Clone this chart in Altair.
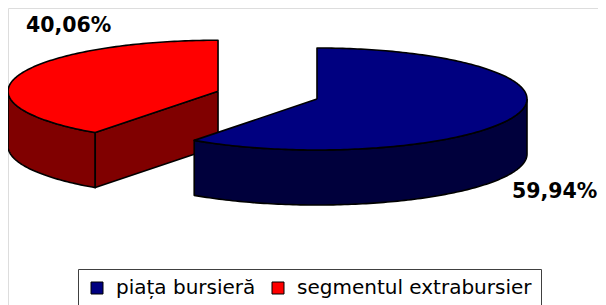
import math
import altair as alt
import pandas as pd

# ---- data ----
categories = ["piața bursieră", "segmentul extrabursier"]
shares = [59.94, 40.06]
top_colors = ["#000080", "#FF0000"]
side_colors = ["#00003C", "#800000"]

# ---- layout / projection (pixels of the page) ----
W, H = 590, 297
CX, CY = 317, 99        # centre of the pie (top face)
RX, RY = 210, 51        # projected radii
DEPTH = 55              # thickness
EXPLODE = [0, 104]      # explosion of each slice along its mid angle
START = 90.0            # 12 o'clock, clockwise
label_pos = [(512, 198), (26, 32)]   # anchor (left, baseline) of each % label

rows = []
pid = [0]


def add_poly(pts, kind, slice_i):
    p = pid[0]
    pid[0] += 1
    for i, (x, y) in enumerate(pts + [pts[0]]):
        rows.append({"x": x, "y": y, "i": i, "poly": p, "kind": kind,
                     "cat": categories[slice_i], "slice": slice_i})
    return p


polys_side = []   # (poly id, colour), in drawing order

total = sum(shares)
angles = []
a = START
for s in shares:
    span = 360.0 * s / total
    angles.append((a, a - span))
    a -= span

geo = []
for k, (t0, t1) in enumerate(angles):
    mid = math.radians((t0 + t1) / 2)
    cx = CX + EXPLODE[k] * math.cos(mid)
    cy = CY - EXPLODE[k] * math.sin(mid) * RY / RX
    geo.append((cx, cy, t0, t1))


def pt(cx, cy, t, dz=0):
    r = math.radians(t)
    return (cx + RX * math.cos(r), cy - RY * math.sin(r) + dz)


def arc(cx, cy, ta, tb, dz=0):
    n = max(2, int(abs(ta - tb)) + 1)
    return [pt(cx, cy, ta + (tb - ta) * j / (n - 1), dz) for j in range(n)]


# draw back slice (red) first, then front slice (blue)
for k in [1, 0]:
    cx, cy, t0, t1 = geo[k]
    lo, hi = min(t0, t1), max(t0, t1)
    for base in [-360, 0, 360]:
        a0, a1 = max(lo, base - 180), min(hi, base)
        if a1 - a0 > 0.01:
            upper = arc(cx, cy, a1, a0)
            lower = arc(cx, cy, a0, a1, DEPTH)
            p = add_poly(upper + lower, "side", k)
            polys_side.append((p, side_colors[k]))
    for te, nrm in [(t0, t0 + 90), (t1, t1 - 90)]:
        if math.sin(math.radians(nrm)) < -1e-6:
            e = pt(cx, cy, te)
            face = [(cx, cy), e, (e[0], e[1] + DEPTH), (cx, cy + DEPTH)]
            p = add_poly(face, "cut", k)
            polys_side.append((p, side_colors[k]))

for k in [1, 0]:
    cx, cy, t0, t1 = geo[k]
    top = [(cx, cy)] + arc(cx, cy, t0, t1)
    add_poly(top, "top", k)

df = pd.DataFrame(rows)

xs = alt.Scale(domain=[8, 8 + W], nice=False, zero=False)
ys = alt.Scale(domain=[8, 8 + H], nice=False, zero=False, reverse=True)
X = alt.X("x:Q", scale=xs, axis=None)
Y = alt.Y("y:Q", scale=ys, axis=None)

base = alt.Chart(df)
layers = []
for p, col in polys_side:
    layers.append(
        base.transform_filter(alt.datum.poly == p)
        .mark_line(fill=col, stroke="black", strokeWidth=1.6, strokeJoin="round")
        .encode(x=X, y=Y, order=alt.Order("i:Q"))
    )

legend = alt.Legend(
    title=None, orient="none", legendX=70, legendY=261, direction="horizontal",
    symbolType="square", symbolSize=144, symbolStrokeColor="black",
    symbolStrokeWidth=1, labelFont="DejaVu Sans", labelFontSize=20,
    labelColor="black", labelLimit=400, labelOffset=9, columnPadding=12,
    padding=9, strokeColor="#404040", fillColor="white",
)
tops = (
    base.transform_filter(alt.datum.kind == "top")
    .mark_line(stroke="black", strokeWidth=1.6, strokeJoin="round")
    .encode(
        x=X, y=Y, order=alt.Order("i:Q"), detail="poly:N",
        fill=alt.Fill("cat:N", scale=alt.Scale(domain=categories, range=top_colors),
                      legend=legend),
    )
)
layers.append(tops)

lab_df = pd.DataFrame({
    "text": [f"{v:.2f}".replace(".", ",") + "%" for v in shares],
    "x": [p[0] for p in label_pos],
    "y": [p[1] for p in label_pos],
})
labels = alt.Chart(lab_df).mark_text(
    align="left", baseline="alphabetic", font="DejaVu Sans", fontWeight="bold",
    fontSize=20.5, color="black"
).encode(x=X, y=Y, text="text:N")
layers.append(labels)

chart = alt.layer(*layers).properties(
    width=W, height=H, padding=0, autosize=alt.AutoSizeParams(type="none")
).configure_view(stroke=None).configure(background="white")

chart.save("out.html", embed_options={"renderer": "svg", "actions": False})
